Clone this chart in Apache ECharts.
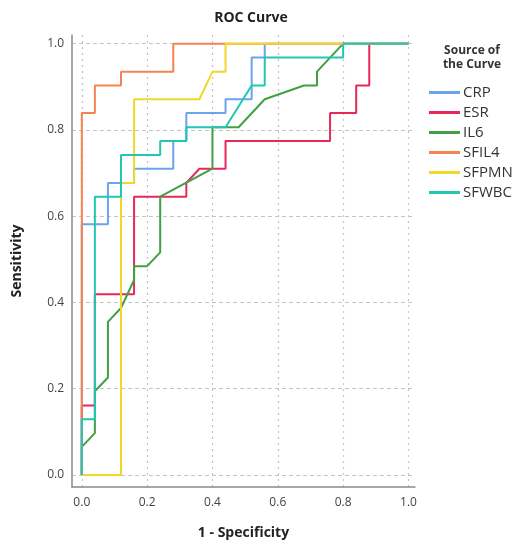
<!DOCTYPE html>
<html>
<head>
<meta charset="utf-8">
<title>ROC Curve</title>
<script src="https://cdn.jsdelivr.net/npm/echarts@6/dist/echarts.min.js"></script>
<style>
  html, body { margin: 0; padding: 0; background: #fff; }
  #chart { width: 516px; height: 545px; }
</style>
</head>
<body>
<div id="chart"></div>
<script>
// tick values on both axes
const ticks = [0, 0.2, 0.4, 0.6, 0.8, 1.0];

// ROC points (1 - specificity, sensitivity)
const crpX = [0, 0, 0.08, 0.08, 0.16, 0.16, 0.28, 0.28, 0.32, 0.32, 0.44, 0.44, 0.52, 0.52, 0.56, 0.56, 1];
const crpY = [0, 0.581, 0.581, 0.677, 0.677, 0.710, 0.710, 0.774, 0.774, 0.839, 0.839, 0.871, 0.871, 0.968, 0.968, 1, 1];

const esrX = [0, 0, 0.04, 0.04, 0.16, 0.16, 0.32, 0.32, 0.36, 0.44, 0.44, 0.76, 0.76, 0.84, 0.84, 0.88, 0.88, 1];
const esrY = [0, 0.161, 0.161, 0.419, 0.419, 0.645, 0.645, 0.677, 0.710, 0.710, 0.774, 0.774, 0.839, 0.839, 0.903, 0.903, 1, 1];

const il6X = [0, 0, 0.04, 0.04, 0.08, 0.08, 0.12, 0.16, 0.16, 0.20, 0.24, 0.24, 0.40, 0.40, 0.48, 0.56, 0.68, 0.72, 0.72, 0.80, 1];
const il6Y = [0, 0.065, 0.097, 0.194, 0.226, 0.355, 0.387, 0.452, 0.484, 0.484, 0.516, 0.645, 0.710, 0.806, 0.806, 0.871, 0.903, 0.903, 0.935, 1, 1];

const sfil4X = [0, 0, 0.04, 0.04, 0.12, 0.12, 0.28, 0.28, 1];
const sfil4Y = [0, 0.839, 0.839, 0.903, 0.903, 0.935, 0.935, 1, 1];

const sfpmnX = [0, 0.12, 0.12, 0.16, 0.16, 0.36, 0.40, 0.44, 0.44, 1];
const sfpmnY = [0, 0, 0.677, 0.677, 0.871, 0.871, 0.935, 0.935, 1, 1];

const sfwbcX = [0, 0, 0.04, 0.04, 0.12, 0.12, 0.24, 0.24, 0.32, 0.32, 0.44, 0.52, 0.56, 0.56, 0.80, 0.80, 1];
const sfwbcY = [0, 0.129, 0.129, 0.645, 0.645, 0.742, 0.742, 0.774, 0.774, 0.806, 0.806, 0.903, 0.903, 0.968, 0.968, 1, 1];

const names = ['CRP', 'ESR', 'IL6', 'SFIL4', 'SFPMN', 'SFWBC'];
const colors = ['#6aa3ee', '#e6285a', '#41a043', '#f5834f', '#f1d72a', '#22c7b3'];
const xs = [crpX, esrX, il6X, sfil4X, sfpmnX, sfwbcX];
const ys = [crpY, esrY, il6Y, sfil4Y, sfpmnY, sfwbcY];

const font = '"Open Sans", "DejaVu Sans", sans-serif';

const chart = echarts.init(document.getElementById('chart'));

const axisLine = { show: true, onZero: false, lineStyle: { color: '#8a8a8a', width: 1.5 } };

chart.setOption({
  backgroundColor: '#fff',
  animation: false,
  textStyle: { fontFamily: font },
  title: [
    {
      text: 'ROC Curve',
      left: 246,
      top: 6,
      textAlign: 'center',
      textStyle: { fontSize: 14, fontWeight: 'bold', color: '#222', fontFamily: font }
    },
    {
      text: 'Source of\nthe Curve',
      left: 467,
      top: 39,
      textAlign: 'center',
      textStyle: { fontSize: 12, fontWeight: 'bold', color: '#333', lineHeight: 14, fontFamily: font }
    }
  ],
  legend: {
    orient: 'vertical',
    left: 424,
    top: 79,
    icon: 'rect',
    itemWidth: 31,
    itemHeight: 3,
    itemGap: 3,
    textStyle: { fontSize: 15, color: '#333', lineHeight: 17, padding: [0, 0, 0, -2], fontFamily: font },
    data: names
  },
  grid: { left: 72, right: 101, top: 35, bottom: 58 },
  xAxis: {
    type: 'value',
    min: -0.03,
    max: 1.02,
    name: '1 - Specificity',
    nameLocation: 'middle',
    nameGap: 39,
    nameTextStyle: { fontSize: 14, fontWeight: 'bold', color: '#222' },
    axisLine: axisLine,
    axisTick: { show: false, customValues: ticks },
    axisLabel: {
      customValues: ticks,
      margin: 10,
      fontSize: 12,
      color: '#444',
      formatter: v => v.toFixed(1)
    },
    splitLine: { show: true, lineStyle: { color: '#c4c4c4', type: [2, 4], width: 1.2 } }
  },
  yAxis: {
    type: 'value',
    min: -0.028,
    max: 1.02,
    name: 'Sensitivity',
    nameLocation: 'middle',
    nameGap: 48,
    nameRotate: 90,
    nameTextStyle: { fontSize: 14, fontWeight: 'bold', color: '#222' },
    axisLine: axisLine,
    axisTick: { show: false, customValues: ticks },
    axisLabel: {
      customValues: ticks,
      margin: 8,
      fontSize: 12,
      color: '#444',
      formatter: v => v.toFixed(1)
    },
    splitLine: { show: true, lineStyle: { color: '#c4c4c4', type: [4, 3], width: 1.2 } }
  },
  series: names.map((name, i) => ({
    name: name,
    type: 'line',
    showSymbol: false,
    symbol: 'none',
    color: colors[i],
    lineStyle: { width: 2, color: colors[i] },
    data: xs[i].map((x, k) => [x, ys[i][k]])
  }))
});
</script>
</body>
</html>
